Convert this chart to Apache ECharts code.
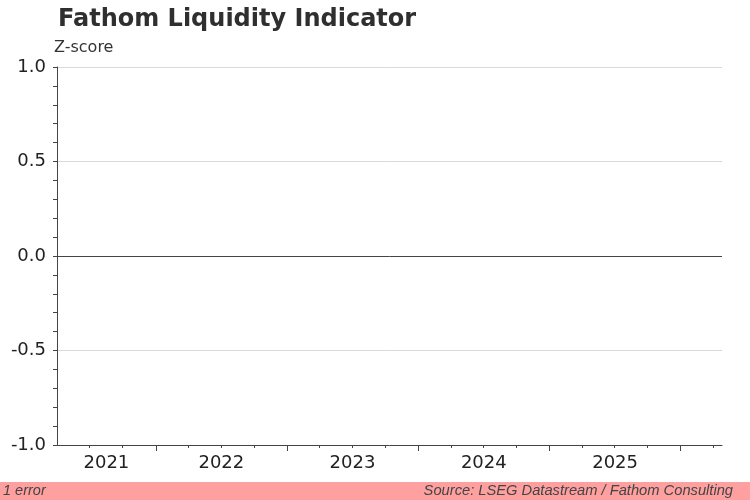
<!DOCTYPE html>
<html><head><meta charset="utf-8">
<script src="https://cdn.jsdelivr.net/npm/echarts@6/dist/echarts.min.js"></script>
<style>html,body{margin:0;padding:0;background:#fff}#c{width:750px;height:500px}</style>
</head><body><div id="c"></div>
<script>
const titleText = 'Fathom Liquidity Indicator';
const unitLabel = 'Z-score';
const sourceText = 'Source: LSEG Datastream / Fathom Consulting';
const errorText = '1 error';
const startDate = '2021-04-01';
const endDate = '2026-04-26';
const yearLabels = ['2021', '2022', '2023', '2024', '2025'];
const yearTicks = ['2022-01-01', '2023-01-01', '2024-01-01', '2025-01-01', '2026-01-01'];
const quarterTicks = ['2021-07-01', '2021-10-01', '2022-04-01', '2022-07-01', '2022-10-01',
  '2023-04-01', '2023-07-01', '2023-10-01', '2024-04-01', '2024-07-01', '2024-10-01',
  '2025-04-01', '2025-07-01', '2025-10-01', '2026-04-01'];
const yTickValues = [-1.0, -0.5, 0.0, 0.5, 1.0];
const referenceLevel = 0.0;
// The source chart shows no data (it reported an error)
const liquidityDates = [];
const liquidityValues = [];

const ts = s => Date.parse(s + 'T00:00:00Z');
const xMin = ts(startDate), xMax = ts(endDate);
const labelPositions = yearLabels.map(y => {
  const a = Math.max(ts(y + '-01-01'), xMin);
  const b = Math.min(ts((+y + 1) + '-01-01'), xMax);
  return (a + b) / 2;
});
const seriesData = liquidityDates.map((d, i) => [ts(d), liquidityValues[i]]);

const FONT = '"DejaVu Sans", sans-serif';
const FOOT_FONT = '"Liberation Sans", Arial, sans-serif';
const chart = echarts.init(document.getElementById('c'), null, {renderer: 'canvas'});
chart.setOption({
  animation: false,
  backgroundColor: '#ffffff',
  title: [{
    text: titleText, left: 53, top: 3,
    textStyle: {fontFamily: FONT, fontSize: 24, fontWeight: 'bold', color: '#2f2f2f'}
  }],
  graphic: [
    {type: 'text', left: 54, top: 40, style: {text: unitLabel, font: '16px ' + FONT, fill: '#333'}},
    {type: 'rect', left: 0, top: 482, shape: {width: 750, height: 18}, style: {fill: '#ffa0a0'}},
    {type: 'text', left: 3, top: 483, style: {text: errorText, font: 'italic 14.5px ' + FOOT_FONT, fill: '#444'}},
    {type: 'text', right: 17, top: 483, style: {text: sourceText, font: 'italic 14.7px ' + FOOT_FONT, fill: '#444'}}
  ],
  grid: {left: 57, right: 28, top: 67, bottom: 55, containLabel: false},
  xAxis: [{
    type: 'value', min: xMin, max: xMax, position: 'bottom',
    axisLine: {show: true, onZero: false, lineStyle: {color: '#444', width: 1}},
    axisTick: {show: true, inside: false, length: 6, customValues: yearTicks.map(ts), lineStyle: {color: '#444'}},
    axisLabel: {
      show: true, customValues: labelPositions, margin: 9,
      formatter: v => yearLabels[labelPositions.indexOf(v)] || String(new Date(v).getUTCFullYear()),
      fontFamily: FONT, fontSize: 18, color: '#222'
    },
    splitLine: {show: false}
  }, {
    type: 'value', min: xMin, max: xMax, position: 'bottom',
    axisLine: {show: false, onZero: false},
    axisTick: {show: true, inside: false, length: 3, customValues: quarterTicks.map(ts), lineStyle: {color: '#444'}},
    axisLabel: {show: false},
    splitLine: {show: false}
  }],
  yAxis: {
    type: 'value', min: yTickValues[0], max: yTickValues[yTickValues.length - 1], interval: 0.5,
    axisLine: {show: true, lineStyle: {color: '#444', width: 1}},
    axisTick: {show: true, inside: false, length: 4, lineStyle: {color: '#444'}},
    minorTick: {show: true, splitNumber: 5, length: 4, lineStyle: {color: '#444'}},
    axisLabel: {formatter: v => v.toFixed(1), fontFamily: FONT, fontSize: 18, color: '#222', margin: 11},
    splitLine: {show: true, lineStyle: {color: '#d9d9d9', width: 1}}
  },
  series: [{
    type: 'line', name: 'Fathom Liquidity Indicator', data: seriesData, showSymbol: false,
    lineStyle: {color: '#1f4e79', width: 2},
    markLine: {
      silent: true, symbol: ['none', 'none'], label: {show: false},
      lineStyle: {color: '#444', width: 1, type: 'solid'},
      data: [{yAxis: referenceLevel}]
    }
  }]
});
</script></body></html>
